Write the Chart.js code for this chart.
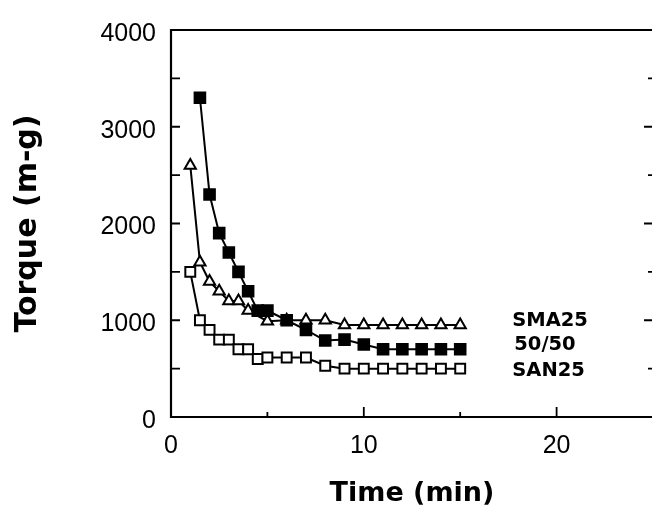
<!DOCTYPE html>
<html><head><meta charset="utf-8">
<script src="https://cdn.jsdelivr.net/npm/chart.js@4.4.0/dist/chart.umd.min.js"></script>
<style>
html,body{margin:0;padding:0;overflow:hidden;background:#fff;width:652px;height:512px}
#wrap{position:absolute;left:0;top:0;width:660px;height:512px}
</style>
</head><body>
<div id="wrap"><canvas id="c" width="660" height="512"></canvas></div>
<script>
// ---- data ----
const seriesNames = ['50/50', 'SMA25', 'SAN25'];
const time5050   = [1.5, 2, 2.5, 3, 3.5, 4, 4.5, 5, 6, 7, 8, 9, 10, 11, 12, 13, 14, 15];
const torque5050 = [3300, 2300, 1900, 1700, 1500, 1300, 1100, 1100, 1000, 900, 790, 800, 750, 700, 700, 700, 700, 700];
const timeSMA25   = [1, 1.5, 2, 2.5, 3, 3.5, 4, 5, 6, 7, 8, 9, 10, 11, 12, 13, 14, 15];
const torqueSMA25 = [2600, 1600, 1400, 1300, 1200, 1200, 1100, 990, 1000, 1000, 1000, 950, 950, 950, 950, 950, 950, 950];
const timeSAN25   = [1, 1.5, 2, 2.5, 3, 3.5, 4, 4.5, 5, 6, 7, 8, 9, 10, 11, 12, 13, 14, 15];
const torqueSAN25 = [1500, 1000, 900, 800, 800, 700, 700, 600, 615, 615, 615, 530, 500, 500, 500, 500, 500, 500, 500];
const xTickLabels = [0, 10, 20];
const yTickLabels = [0, 1000, 2000, 3000, 4000];
const xTitle = 'Time (min)';
const yTitle = 'Torque (m-g)';

const pts = (xs, ys) => xs.map((x, i) => ({x: x, y: ys[i]}));

const framePlugin = {
  id: 'frame',
  afterDraw(chart) {
    const {ctx, chartArea: a, scales: {x, y}} = chart;
    ctx.save();
    ctx.strokeStyle = '#000';
    ctx.lineWidth = 2.2;
    ctx.beginPath();
    ctx.moveTo(a.right + 2, a.bottom); ctx.lineTo(a.left, a.bottom);
    ctx.lineTo(a.left, a.top); ctx.lineTo(a.right + 2, a.top);
    ctx.stroke();
    ctx.lineWidth = 1.8;
    ctx.beginPath();
    for (let v = 500; v < 4000; v += 500) {
      const py = y.getPixelForValue(v);
      ctx.moveTo(a.left, py); ctx.lineTo(a.left + 9, py);
      const rl = (v % 1000 === 0) ? 9 : 5;
      ctx.moveTo(a.right, py); ctx.lineTo(a.right - rl, py);
    }
    for (let v = 5; v < 25; v += 5) {
      const px = x.getPixelForValue(v);
      const l = (v % 10 === 0) ? 10 : 5;
      ctx.moveTo(px, a.bottom); ctx.lineTo(px, a.bottom - l);
    }
    ctx.stroke();
    // series labels
    ctx.fillStyle = '#000';
    ctx.font = 'bold 19.5px "DejaVu Sans"';
    ctx.textAlign = 'left';
    ctx.textBaseline = 'middle';
    const lx = x.getPixelForValue(17.7);
    ctx.fillText(seriesNames[1], lx, y.getPixelForValue(995));
    ctx.fillText(seriesNames[0], lx + 2, y.getPixelForValue(740));
    ctx.fillText(seriesNames[2], lx, y.getPixelForValue(475));
    ctx.restore();
  }
};

const common = {
  showLine: true,
  borderColor: '#000',
  borderWidth: 2,
  pointBorderColor: '#000',
  pointBorderWidth: 2,
  pointHoverRadius: 0,
  tension: 0
};

new Chart(document.getElementById('c'), {
  type: 'scatter',
  data: {
    datasets: [
      Object.assign({}, common, {label: seriesNames[0], data: pts(time5050, torque5050),
        pointStyle: 'rect', pointRadius: 7.5, pointBackgroundColor: '#000'}),
      Object.assign({}, common, {label: seriesNames[1], data: pts(timeSMA25, torqueSMA25),
        pointStyle: 'triangle', pointRadius: 6.5, pointBackgroundColor: '#fff'}),
      Object.assign({}, common, {label: seriesNames[2], data: pts(timeSAN25, torqueSAN25),
        pointStyle: 'rect', pointRadius: 7, pointBackgroundColor: '#fff'})
    ]
  },
  options: {
    responsive: false,
    animation: false,
    devicePixelRatio: 1,
    layout: {autoPadding: false, padding: {top: 25, right: 7, left: 0, bottom: 0}},
    plugins: {legend: {display: false}, tooltip: {enabled: false}},
    events: [],
    scales: {
      x: {
        type: 'linear', min: 0, max: 25,
        afterBuildTicks: s => { s.ticks = xTickLabels.map(v => ({value: v})); },
        afterFit: s => { s.height = 95; },
        grid: {display: false, drawTicks: false},
        border: {display: false},
        ticks: {color: '#000', padding: 14, maxRotation: 0, callback: v => String(v),
          font: {family: '"Liberation Sans", Arial', size: 25}},
        title: {display: true, text: xTitle, color: '#000', padding: {top: 0, bottom: 2},
          font: {family: '"DejaVu Sans"', size: 27, weight: 'bold'}}
      },
      y: {
        type: 'linear', min: 0, max: 4000,
        afterBuildTicks: s => { s.ticks = yTickLabels.map(v => ({value: v})); },
        afterFit: s => { s.width = 171; },
        grid: {display: false, drawTicks: false},
        border: {display: false},
        ticks: {color: '#000', padding: 15, labelOffset: 4, callback: v => String(v),
          font: {family: '"Liberation Sans", Arial', size: 25}},
        title: {display: true, text: yTitle, color: '#000', padding: {top: 10, bottom: 0},
          font: {family: '"DejaVu Sans"', size: 30, weight: 'bold'}}
      }
    }
  },
  plugins: [framePlugin]
});
</script>
</body></html>
